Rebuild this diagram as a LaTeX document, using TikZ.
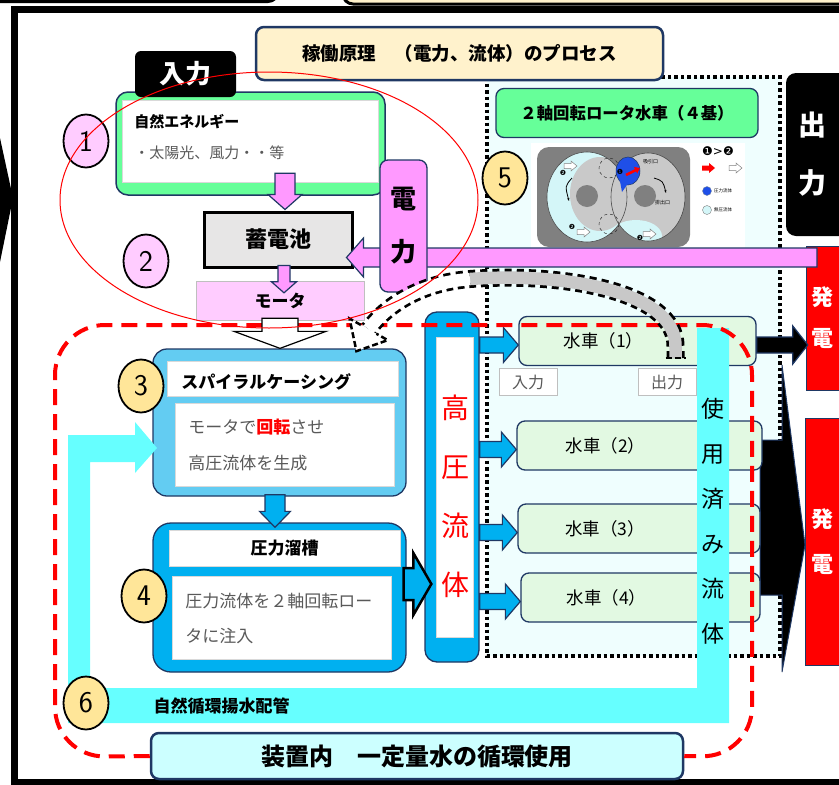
\documentclass[tikz,border=0pt]{standalone}
\usepackage{fontspec}
\setmainfont{Noto Sans CJK JP}
\newfontfamily\dejavu{DejaVu Sans}
\usetikzlibrary{positioning,shapes.geometric,calc,arrows.meta}

\definecolor{navy}{HTML}{1F3864}
\definecolor{beige}{HTML}{FFF2CC}
\definecolor{greenA}{HTML}{66FF99}
\definecolor{pinkA}{HTML}{FF99FF}
\definecolor{pinkL}{HTML}{FFCCFF}
\definecolor{batgrey}{HTML}{E7E6E6}
\definecolor{skyA}{HTML}{63CCF2}
\definecolor{blueA}{HTML}{00B0F0}
\definecolor{mint}{HTML}{E2F9E2}
\definecolor{cyanA}{HTML}{66FFFF}
\definecolor{cyanL}{HTML}{CCFFFF}
\definecolor{tint}{HTML}{EFFEFE}
\definecolor{yellowC}{HTML}{FFE699}
\definecolor{bandgrey}{HTML}{C8C8C8}
\definecolor{txtgrey}{HTML}{595959}
\definecolor{rotorgrey}{HTML}{808080}
\definecolor{discgrey}{HTML}{C9C9C9}
\definecolor{cyanP}{HTML}{D4F6F8}
\definecolor{blueB}{HTML}{1F4FE8}

\newcommand{\fsz}[2]{\fontsize{#1}{#2}\selectfont}

\tikzstyle{panel}=[rectangle, draw=navy, line width=1.3pt, rounded corners=8pt, inner sep=0pt, text centered]
\tikzstyle{whitein}=[rectangle, draw=black!15, fill=white, inner sep=0pt]
\tikzstyle{numc}=[ellipse, draw=black, line width=1.8pt, minimum width=45pt, minimum height=53pt,
        inner sep=0pt, font=\sffamily\fsz{30}{30}]
\tikzstyle{wheelbox}=[panel, fill=mint, minimum height=49pt]
\tikzstyle{pinkarr}=[fill=pinkA, draw=navy, line width=1.2pt]
\tikzstyle{bluearr}=[fill=blueA, draw=navy, line width=1.2pt]
\tikzstyle{blackarr}=[fill=black, draw=navy, line width=1.2pt]
\tikzstyle{hollowarr}=[fill=white, draw=black, line width=1.2pt]

% block arrows: style, start, tip, half shaft, half head, head length
\newcommand{\blockdown}[6]{%
  \draw[#1] ($(#2)+(-#4,0)$) -- ($(#3)+(-#4,-#6)$) -- ($(#3)+(-#5,-#6)$) -- (#3)
    -- ($(#3)+(#5,-#6)$) -- ($(#3)+(#4,-#6)$) -- ($(#2)+(#4,0)$) -- cycle;}
\newcommand{\blockright}[6]{%
  \draw[#1] ($(#2)+(0,-#4)$) -- ($(#3)+(-#6,-#4)$) -- ($(#3)+(-#6,-#5)$) -- (#3)
    -- ($(#3)+(-#6,#5)$) -- ($(#3)+(-#6,#4)$) -- ($(#2)+(0,#4)$) -- cycle;}
\newcommand{\blockleft}[6]{%
  \draw[#1] ($(#2)+(0,-#4)$) -- ($(#3)+(#6,-#4)$) -- ($(#3)+(#6,-#5)$) -- (#3)
    -- ($(#3)+(#6,#5)$) -- ($(#3)+(#6,#4)$) -- ($(#2)+(0,#4)$) -- cycle;}

\begin{document}
\begin{tikzpicture}[x=1pt, y=-1pt]
\useasboundingbox (0,0) rectangle (839,785);
\clip (0,0) rectangle (839,785);

% frame and the edges of the neighbouring panels
\draw[line width=3pt, fill=white, rounded corners=10pt] (-30,-60) rectangle (278,1.5);
\draw[line width=3pt, fill=beige, rounded corners=10pt] (343,-60) rectangle (900,4);
\draw[line width=7pt] (14.5,9.5) rectangle (880,782);
\fill[black] (0,138) -- (13,198) -- (0,262) -- cycle;

% water wheel area
\filldraw[fill=tint, draw=black, line width=3.5pt, dash pattern=on 3.5pt off 3pt] (487,77) rectangle (780,656);

\node[panel, fill=beige, line width=2.5pt, minimum width=407pt, minimum height=53pt,
      font=\fsz{18.5}{22}\bfseries] (title) at (459.5,53.5) {稼働原理　（電力、流体）のプロセス};

% input side
\node[panel, fill=greenA, line width=1.5pt, rounded corners=12pt, minimum width=269pt,
      minimum height=103pt] (nat) at (250.5,143.5) {};
\node[whitein, minimum width=256pt, minimum height=82pt] (natin) at (250,141) {};
\node[anchor=west, font=\fsz{15}{18}\bfseries] (natT) at ($(natin.west)+(9,-19)$) {自然エネルギー};
\node[anchor=west, text=txtgrey, font=\fsz{15}{18}] (natB) at ($(natin.west)+(9,12)$) {・太陽光、風力・・等};
\node[fill=black, rounded corners=6pt, minimum width=101pt, minimum height=46pt, inner sep=0pt,
      text=white, font=\fsz{26}{30}\bfseries] (inp) at (185.5,74) {入力};

\node[draw=black, line width=3pt, fill=batgrey, minimum width=148pt, minimum height=55pt,
      inner sep=0pt, font=\fsz{22}{26}\bfseries] (bat) at (278,239.5) {蓄電池};
\node[draw=black!25, fill=pinkL, minimum width=168pt, minimum height=39pt, inner sep=0pt,
      font=\fsz{17}{20}\bfseries] (mot) at (280,300.5) {モータ};

\coordinate (naS) at ($(natin.south)+(35,-9)$);
\coordinate (naT) at ($(bat.north -| naS)+(0,-1)$);
\blockdown{pinkarr}{naS}{naT}{10}{17}{15}
\coordinate (bmS) at ($(bat.south)+(6,-3)$);
\coordinate (bmT) at ($(mot.north -| bmS)+(0,12)$);
\blockdown{pinkarr}{bmS}{bmT}{6}{12.5}{11}

% rotor sketch
\fill[white] (531,143) rectangle (745,248);
\fill[rotorgrey, rounded corners=12pt] (537,147) rectangle (690,247);
\begin{scope}
  \clip (587,197) ellipse (40 and 45);
  \fill[cyanP] (587,197) ellipse (40 and 45);
  \fill[discgrey] (600,194) ellipse (30 and 37);
\end{scope}
\begin{scope}
  \clip (648,197) ellipse (37 and 44);
  \fill[discgrey] (648,197) ellipse (37 and 44);
  \fill[cyanP] (636,236) ellipse (26 and 16);
\end{scope}
\draw[gray!60!black, line width=0.6pt] (587,197) ellipse (40 and 45) (648,197) ellipse (37 and 44);
\fill[rotorgrey] (587,196) circle (11) (645,196) circle (11);
\draw[gray!40!black, dashed, line width=0.5pt] (609,168) circle (10) (609,224) circle (10);
\filldraw[fill=blueB, draw=navy, line width=0.5pt] (628,171) ellipse (12 and 14);
\fill[blueB] (619,176) -- (622,192) -- (629,182) -- cycle;
\draw[red, line width=2.5pt, -{Triangle[length=5pt,width=7pt]}] (626,175) -- (640,168);
\foreach \p in {(571,166),(584,232),(650,234),(736,168)}
  \draw[shift={\p}, fill=white, draw=gray, line width=0.5pt]
    (-7,-2.5) -- (0,-2.5) -- (0,-5) -- (6,0) -- (0,5) -- (0,2.5) -- (-7,2.5) -- cycle;
\fill[shift={(709,168)}, red] (-7,-2.5) -- (0,-2.5) -- (0,-5) -- (6,0) -- (0,5) -- (0,2.5) -- (-7,2.5) -- cycle;
\draw[line width=0.8pt, -{Stealth[length=3pt]}] (572,178) .. controls (565,186) .. (569,201);
\draw[line width=0.8pt, -{Stealth[length=3pt]}] (654,178) .. controls (663,181) .. (666,193);
\foreach \nm/\p/\t in {m1/{(563,173)}/❷, m2/{(572,227)}/❷, m3/{(640,238)}/❷, m4/{(620,172)}/❶}
  \node[font=\dejavu\fsz{7}{7}, inner sep=0pt] (\nm) at \p {\t};
\node[font=\dejavu\fsz{12}{12}, inner sep=0pt] (lgA) at (718,151) {❶>❷};
\filldraw[fill=blueB, draw=navy!60, line width=0.4pt] (707,191) circle (4.5);
\filldraw[fill=cyanP, draw=gray, line width=0.4pt] (707,210) circle (4.5);
\node[anchor=west, font=\fsz{4.5}{5}, inner sep=0pt] (lgB) at (714,191) {圧力流体};
\node[anchor=west, font=\fsz{4.5}{5}, inner sep=0pt] (lgC) at (714,210) {無圧流体};
\node[anchor=west, font=\fsz{5}{5}, inner sep=0pt] (suc) at (643,162) {吸引口};
\node[anchor=west, font=\fsz{5}{5}, inner sep=0pt] (dis) at (655,203) {排出口};

\node[panel, fill=greenA, minimum width=262pt, minimum height=49pt,
      font=\fsz{16.4}{20}\bfseries] (wtit) at (627,113) {２軸回転ロータ水車（４基）};

% output side
\node[fill=black, rounded corners=10pt, minimum width=84pt, minimum height=163pt] (outb) at (828,154.5) {};
\node[text=white, align=center, font=\fsz{28}{58}\bfseries] (outT) at (812,154.5) {出\\力};
\node[draw=navy, fill=red, minimum width=64pt, minimum height=144pt] (rb1) at (838,318) {};
\node[text=white, align=center, font=\fsz{22}{41}\bfseries] (rb1t) at (822,318) {発\\電};
\node[draw=navy, fill=red, minimum width=65pt, minimum height=247pt] (rb2) at (837.5,541.5) {};
\node[text=white, align=center, font=\fsz{22}{45}\bfseries] (rb2t) at (822,542) {発\\電};

\coordinate (pwS) at (817,257.5);
\coordinate (pwT) at ($(bat.east |- pwS)+(-7,0)$);
\blockleft{pinkarr}{pwS}{pwT}{9.5}{19.5}{17}
\node[panel, fill=pinkA, minimum width=47pt, minimum height=132pt, align=center,
      font=\fsz{26}{53}\bfseries] (pw) at (403.5,226) {電\\力};

% spiral casing and tank
\node[panel, fill=skyA, rounded corners=14pt, minimum width=253pt, minimum height=147pt] (sp) at (279.5,422.5) {};
\node[whitein, minimum width=231pt, minimum height=35pt] (sph) at (282.5,378.5) {};
\node[anchor=west, font=\fsz{17}{20}\bfseries] (sphT) at ($(sph.west)+(11,3)$) {スパイラルケーシング};
\node[whitein, minimum width=219pt, minimum height=83pt] (spb) at (284.5,444.5) {};
\node[anchor=west, align=left, text=txtgrey, font=\fsz{17}{36}] (spbT) at ($(spb.west)+(10,0)$)
  {モータで\textcolor{red}{\bfseries 回転}させ\\高圧流体を生成};

\node[panel, fill=blueA, rounded corners=18pt, minimum width=253pt, minimum height=149pt] (tk) at (279.5,597.5) {};
\node[whitein, minimum width=231pt, minimum height=36pt, font=\fsz{17}{20}\bfseries] (tkh) at (284.5,548) {圧力溜槽};
\node[whitein, minimum width=219pt, minimum height=83pt] (tkb) at (281.5,617.5) {};
\node[anchor=west, align=left, text=txtgrey, font=\fsz{17}{35}] (tkbT) at ($(tkb.west)+(10,1)$)
  {圧力流体を２軸回転ロー\\タに注入};

\coordinate (a3S) at ($(sp.south)+(-4.5,-2)$);
\coordinate (a3T) at ($(tk.north -| a3S)+(0,5)$);
\blockdown{bluearr}{a3S}{a3T}{10}{15.5}{16}

% high pressure header
\node[panel, fill=blueA, rounded corners=12pt, minimum width=54pt, minimum height=350pt] (bar) at (452,487) {};
\node[whitein, minimum width=37pt, minimum height=300pt] (barin) at (454.5,487) {};
\node[text=red, align=center, font=\fsz{28}{59}] (barT) at (455,496) {高\\圧\\流\\体};

\coordinate (a4S) at ($(tk.east)+(-3,-13.5)$);
\coordinate (a4T) at ($(bar.west |- a4S)+(7,0)$);
\blockright{fill=blueA, draw=black, line width=2.5pt}{a4S}{a4T}{16}{31}{18}

% wheels
\filldraw[fill=black, draw=navy, line width=1pt]
  (760,440) -- (782,440) -- (782,365) -- (805,545) -- (782,672) -- (782,595) -- (760,595) -- cycle;
\foreach \n/\cy/\w/\cx in {1/341/237/637.5, 2/445.5/245/639.5, 3/528.5/242/639, 4/597.5/239/640.5}
  \node[wheelbox, minimum width=\w pt,
        label={[font=\fsz{17.5}{20}, xshift=-34pt]center:水車（\n）}] (w\n) at (\cx,\cy) {};
\foreach \n in {1,2,3,4} {
  \coordinate (s\n) at ($(bar.east |- w\n.west)+(0,4)$);
  \coordinate (t\n) at ($(w\n.west)+(0,4)$);
  \blockright{bluearr}{s\n}{t\n}{8}{17.5}{15}
}
\node[draw=black!25, fill=white, minimum width=58pt, minimum height=27pt, inner sep=0pt,
      text=txtgrey, font=\fsz{16}{18}] (w1in) at (528,382) {入力};
\node[draw=black!25, fill=white, minimum width=58pt, minimum height=27pt, inner sep=0pt,
      text=txtgrey, font=\fsz{16}{18}] (w1out) at (667,382) {出力};

\coordinate (geS) at ($(w1.east)+(0,4)$);
\coordinate (geT) at ($(rb1.west |- geS)+(2,0)$);
\blockright{blackarr}{geS}{geT}{8}{19}{15}

% return piping
\fill[cyanA] (135,435) -- (135,422) -- (157,448) -- (135,473) -- (135,462) -- (90,462) -- (90,688)
  -- (697,688) -- (697,328) -- (729,328) -- (729,723) -- (68,723) -- (68,435) -- cycle;
\node[anchor=west, font=\fsz{17}{20}\bfseries] (pipeT) at (150,706) {自然循環揚水配管};
\node[align=center, font=\fsz{23}{45}] (usedT) at (713,521) {使\\用\\済\\み\\流\\体};

% step numbers
\node[numc, fill=pinkL] (c1) at (86,141) {1};
\node[numc, fill=pinkL] (c2) at (146,261) {2};
\node[numc, fill=yellowC] (c3) at (141,386) {3};
\node[numc, fill=yellowC] (c4) at (144,596) {4};
\node[numc, fill=yellowC] (c5) at (505,178) {5};
\node[numc, fill=yellowC] (c6) at (86,703) {6};

\node[panel, fill=cyanL, line width=2.5pt, minimum width=532pt, minimum height=46pt,
      font=\fsz{24}{28}\bfseries] (loopT) at (417,756) {装置内　一定量水の循環使用};
\draw[red, line width=4pt, dash pattern=on 16pt off 9pt, rounded corners=50pt]
  (loopT.west) -- (55,757) -- (55,325) -- (752,325) -- (752,757) -- (loopT.east);

\coordinate (moS) at ($(mot.south)+(0,-2)$);
\coordinate (moT) at (sp.north -| moS);
\blockdown{hollowarr}{moS}{moT}{18}{46}{17}

% reused fluid back to the casing
\coordinate (backS) at ($(w1.south)+(38,-8)$);
\coordinate (backE) at ($(sp.north east)+(-38,-19)$);
\draw[line width=18pt, dash pattern=on 7pt off 5pt] (backS) -- ++(0,-12)
  .. controls (676,292) and (565,272) .. (470,279) .. controls (420,283) and (387,305) .. (backE);
\draw[bandgrey, line width=12.5pt] (backS) -- ++(0,-12) .. controls (676,292) and (565,272) .. (470,279);
\draw[white, line width=12.5pt] (470,279) .. controls (420,283) and (387,305) .. (backE);
\draw[line width=2.5pt, dash pattern=on 6pt off 3pt] ($(backS)+(-10,0)$) -- ($(backS)+(10,0)$);
\fill[white] ($(backE)+(-19.1,-10.8)$) -- ($(backE)+(-12.2,21.8)$) -- ($(backE)+(19.1,10.8)$) -- cycle;
\draw[line width=2.5pt, dash pattern=on 6pt off 3pt] ($(backE)+(-7.8,-4.4)$) -- ($(backE)+(-19.1,-10.8)$)
  -- ($(backE)+(-12.2,21.8)$) -- ($(backE)+(19.1,10.8)$) -- ($(backE)+(7.8,4.4)$);

\draw[red, line width=1pt] (269,200) ellipse (209 and 128);
\end{tikzpicture}
\end{document}
